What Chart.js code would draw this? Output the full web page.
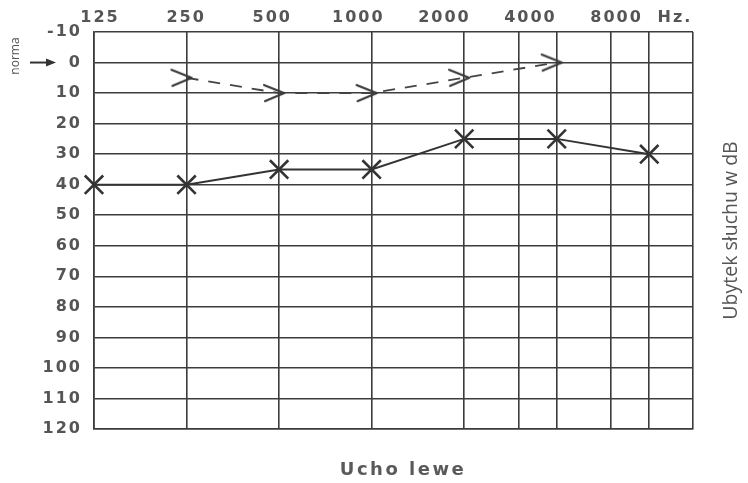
<!DOCTYPE html>
<html>
<head>
<meta charset="utf-8">
<script src="https://cdn.jsdelivr.net/npm/chart.js@4.4.1/dist/chart.umd.min.js"></script>
<style>
  html, body { margin: 0; padding: 0; background: #ffffff; }
  canvas { display: block; }
</style>
</head>
<body>
<canvas id="c" width="748" height="483"></canvas>
<script>
// ---- data ----
const frequencies = [125, 250, 500, 1000, 2000, 4000, 8000];
const airConduction = [40, 40, 35, 35, 25, 25, 30];
const boneFrequencies = [250, 500, 1000, 2000, 4000];
const boneConduction = [5, 10, 10, 5, 0];
const gridFrequencies = [125, 250, 500, 1000, 2000, 3000, 4000, 6000, 8000, 11100];
const topTickLabels = ['125', '250', '500', '1000', '2000', '4000', '8000', 'Hz.'];
const topTickFrequencies = [125, 250, 500, 1000, 2000, 4000, 8000, 12800];
const yMin = -10, yMax = 120, yStep = 10;
const xTitle = 'Ucho lewe';
const yTitle = 'Ubytek słuchu w dB';
const normaLabel = 'norma';

// ---- styles ----
const INK = '#333333';
const GRID = '#3c3c3c';
const TEXT = '#555555';

function makeChevron() {
  const c = document.createElement('canvas');
  c.width = 40; c.height = 20;
  const g = c.getContext('2d');
  g.strokeStyle = '#3a3a3a';
  g.lineWidth = 2.2;
  g.lineCap = 'round';
  g.lineJoin = 'round';
  g.beginPath();
  g.moveTo(5, 2);
  g.lineTo(25, 10);
  g.lineTo(6, 18);
  g.stroke();
  return c;
}
const chevron = makeChevron();

const textPlugin = {
  id: 'textPlugin',
  beforeDraw(chart) {
    chart.ctx.letterSpacing = '2px';
  },
  afterDraw(chart) {
    const ctx = chart.ctx;
    const area = chart.chartArea;
    const y0 = chart.scales.y.getPixelForValue(0);
    ctx.save();
    // bottom title
    ctx.letterSpacing = '2.5px';
    ctx.fillStyle = '#5a5a5a';
    ctx.font = 'bold 18px "DejaVu Sans"';
    ctx.textAlign = 'center';
    ctx.textBaseline = 'middle';
    ctx.fillText(xTitle, 403, 470);
    // right title
    ctx.letterSpacing = '0px';
    ctx.save();
    ctx.translate(731, (area.top + area.bottom) / 2);
    ctx.rotate(-Math.PI / 2);
    ctx.font = '19.5px "Open Sans"';
    ctx.fillStyle = TEXT;
    ctx.fillText(yTitle, 0, 0);
    ctx.restore();
    // norma
    ctx.save();
    ctx.translate(16, 56);
    ctx.rotate(-Math.PI / 2);
    ctx.font = '12px "Open Sans"';
    ctx.fillStyle = TEXT;
    ctx.fillText(normaLabel, 0, 0);
    ctx.restore();
    // arrow
    ctx.strokeStyle = INK;
    ctx.fillStyle = INK;
    ctx.lineWidth = 2;
    ctx.beginPath();
    ctx.moveTo(30, y0);
    ctx.lineTo(48, y0);
    ctx.stroke();
    ctx.beginPath();
    ctx.moveTo(56, y0);
    ctx.lineTo(46, y0 - 4);
    ctx.lineTo(46, y0 + 4);
    ctx.closePath();
    ctx.fill();
    ctx.restore();
  }
};

new Chart(document.getElementById('c'), {
  type: 'line',
  data: {
    datasets: [
      {
        label: 'air',
        data: frequencies.map((f, i) => ({ x: f, y: airConduction[i] })),
        borderColor: INK,
        borderWidth: 2,
        pointStyle: 'crossRot',
        pointRadius: 13,
        pointBorderWidth: 2.6,
        pointBorderColor: INK,
        pointBackgroundColor: INK,
        tension: 0,
        clip: false
      },
      {
        label: 'bone',
        data: boneFrequencies.map((f, i) => ({ x: f, y: boneConduction[i] })),
        borderColor: '#444444',
        borderWidth: 1.8,
        borderDash: [12, 10],
        pointStyle: chevron,
        pointRadius: 10,
        tension: 0,
        clip: false
      }
    ]
  },
  options: {
    responsive: false,
    animation: false,
    devicePixelRatio: 1,
    layout: { padding: 0 },
    plugins: {
      legend: { display: false },
      tooltip: { enabled: false },
      title: { display: false }
    },
    scales: {
      x: {
        type: 'logarithmic',
        position: 'bottom',
        min: gridFrequencies[0],
        max: gridFrequencies[gridFrequencies.length - 1],
        afterBuildTicks: s => { s.ticks = gridFrequencies.map(v => ({ value: v })); },
        ticks: { display: false },
        grid: { color: GRID, lineWidth: 1.6, drawTicks: false },
        border: { color: GRID, width: 1.6 },
        afterFit: s => { s.height = 54; }
      },
      xTop: {
        type: 'logarithmic',
        position: 'top',
        min: 119.1,
        max: 14800,
        afterBuildTicks: s => { s.ticks = topTickFrequencies.map(v => ({ value: v })); },
        ticks: {
          autoSkip: false,
          maxRotation: 0,
          padding: 5,
          color: TEXT,
          font: { family: 'DejaVu Sans', size: 16, weight: 'bold' },
          callback: (v, i) => topTickLabels[i]
        },
        grid: { display: false, drawTicks: false },
        border: { display: false },
        afterFit: s => { s.height = 32; }
      },
      y: {
        type: 'linear',
        reverse: true,
        min: yMin,
        max: yMax,
        ticks: {
          stepSize: yStep,
          padding: 12,
          color: TEXT,
          font: { family: 'DejaVu Sans', size: 16, weight: 'bold' }
        },
        grid: { color: GRID, lineWidth: 1.6, drawTicks: false },
        border: { color: GRID, width: 1.6 },
        afterFit: s => { s.width = 94; }
      },
      yRight: {
        type: 'linear',
        position: 'right',
        min: yMin,
        max: yMax,
        ticks: { display: false },
        grid: { display: false, drawTicks: false },
        border: { display: false },
        afterFit: s => { s.width = 55; }
      }
    }
  },
  plugins: [textPlugin]
});
</script>
</body>
</html>
